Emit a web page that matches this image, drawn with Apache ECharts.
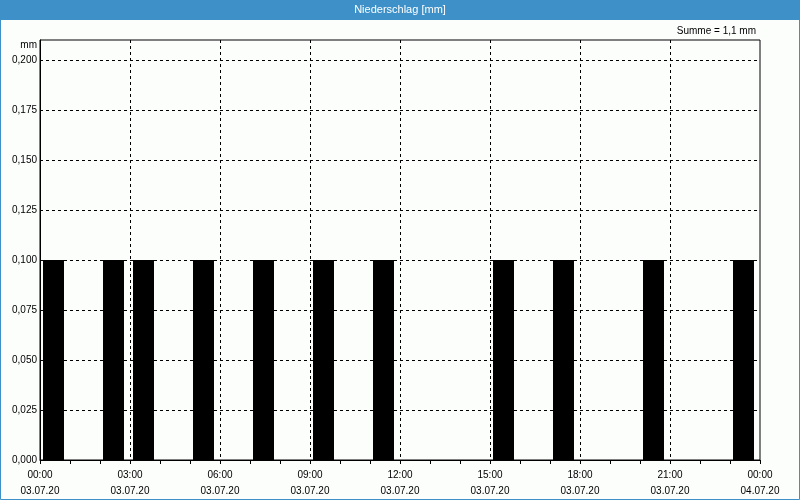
<!DOCTYPE html>
<html>
<head>
<meta charset="utf-8">
<script src="https://cdn.jsdelivr.net/npm/echarts@6/dist/echarts.min.js"></script>
<style>html,body{margin:0;padding:0;background:#fff}#main{width:800px;height:500px}</style>
</head>
<body>
<div id="main"></div>
<script>
// Hour (start of interval, 03.07.20) with precipitation
const barHours = [0, 2, 3, 5, 7, 9, 11, 15, 17, 20, 23];
const barValues = [0.1, 0.1, 0.1, 0.1, 0.1, 0.1, 0.1, 0.1, 0.1, 0.1, 0.1];
const xTickHours = [0, 3, 6, 9, 12, 15, 18, 21, 24];
const xTickDates = ['03.07.20', '03.07.20', '03.07.20', '03.07.20', '03.07.20', '03.07.20', '03.07.20', '03.07.20', '04.07.20'];
const yTicks = [0, 0.025, 0.05, 0.075, 0.1, 0.125, 0.15, 0.175, 0.2];
const titleText = 'Niederschlag [mm]';
const sumText = 'Summe = 1,1 mm';
const unitText = 'mm';

const FONT = 'Liberation Sans';
const BLUE = '#3d91c8';
const chart = echarts.init(document.getElementById('main'));
const barData = barHours.map((h, i) => [h + 0.45, barValues[i]]);

chart.setOption({
  backgroundColor: '#fcfefc',
  animation: false,
  graphic: [
    { type: 'rect', shape: { x: 0, y: 0, width: 800, height: 20 }, style: { fill: BLUE }, z: 10 },
    { type: 'rect', shape: { x: 0.5, y: 0.5, width: 799, height: 499 }, style: { fill: 'none', stroke: BLUE, lineWidth: 1 }, z: 10 },
    { type: 'text', x: 400, y: 10, style: { text: titleText, fill: '#fff', font: '11px ' + FONT, textAlign: 'center', textVerticalAlign: 'middle' }, z: 11 },
    { type: 'text', x: 756, y: 31, style: { text: sumText, fill: '#000', font: '10px ' + FONT, textAlign: 'right', textVerticalAlign: 'middle' }, z: 11 },
    { type: 'text', x: 37, y: 45, style: { text: unitText, fill: '#000', font: '10px ' + FONT, textAlign: 'right', textVerticalAlign: 'middle' }, z: 11 }
  ],
  grid: { left: 40, right: 40, top: 40, bottom: 40, show: true, borderColor: '#000', borderWidth: 1, backgroundColor: 'transparent' },
  xAxis: {
    type: 'value', min: 0, max: 24, interval: 3,
    axisLine: { show: true, lineStyle: { color: '#000', width: 1 } },
    axisTick: { show: true, length: 4, lineStyle: { color: '#000' } },
    minorTick: { show: true, splitNumber: 3, length: 4, lineStyle: { color: '#000' } },
    splitLine: { show: true, showMinLine: false, showMaxLine: false, lineStyle: { color: '#000', type: [3, 3], width: 1 } },
    axisLabel: {
      color: '#000', fontFamily: FONT, fontSize: 10, lineHeight: 16, margin: 7,
      formatter: v => {
        const i = xTickHours.indexOf(v);
        const hh = String(v % 24).padStart(2, '0') + ':00';
        return hh + '\n' + xTickDates[i];
      }
    }
  },
  yAxis: {
    type: 'value', min: 0, max: 0.21, interval: 0.025,
    axisLine: { show: true, lineStyle: { color: '#000', width: 1 } },
    axisTick: { show: false },
    splitLine: { show: true, showMinLine: false, showMaxLine: false, lineStyle: { color: '#000', type: [3, 3], width: 1 } },
    axisLabel: {
      color: '#000', fontFamily: FONT, fontSize: 10, margin: 3, showMaxLabel: false,
      formatter: v => yTicks.some(t => Math.abs(t - v) < 1e-9) ? v.toFixed(3).replace('.', ',') : ''
    }
  },
  series: [{
    type: 'bar', data: barData, barWidth: 21,
    itemStyle: { color: '#000' }, z: 3
  }]
});
</script>
</body>
</html>
